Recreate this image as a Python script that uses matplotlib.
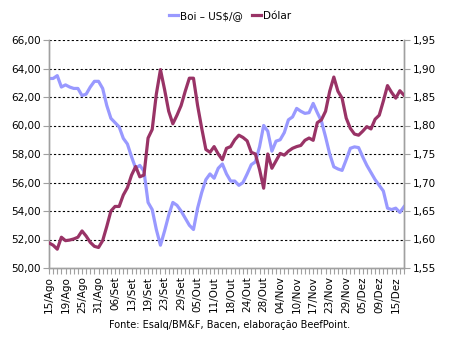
import matplotlib
matplotlib.use("Agg")
import matplotlib.pyplot as plt
import numpy as np

date_labels = ["15/Ago", "19/Ago", "25/Ago", "31/Ago", "06/Set", "13/Set", "19/Set",
               "23/Set", "29/Set", "05/Out", "11/Out", "18/Out", "24/Out", "28/Out",
               "04/Nov", "10/Nov", "17/Nov", "23/Nov", "29/Nov", "05/Dez", "09/Dez", "15/Dez"]
label_step = 4

boi = [63.3, 63.3, 63.5, 62.7, 62.85, 62.7, 62.6, 62.6, 62.1, 62.2,
       62.7, 63.1, 63.1, 62.6, 61.4, 60.5, 60.2, 59.9, 59.1, 58.7,
       57.8, 57.0, 57.2, 56.8, 54.6, 54.1, 52.7, 51.6, 52.6, 53.7,
       54.6, 54.4, 54.0, 53.5, 53.0, 52.7, 54.2, 55.3, 56.2, 56.6,
       56.3, 57.0, 57.3, 56.6, 56.1, 56.1, 55.8, 56.0, 56.6, 57.25,
       57.45, 58.5, 60.0, 59.6, 58.2, 58.9, 59.0, 59.5, 60.4, 60.6,
       61.2, 61.0, 60.85, 60.9, 61.55, 60.9, 60.3, 59.2, 58.0, 57.1,
       56.95, 56.85, 57.6, 58.4, 58.5, 58.45, 57.8, 57.2, 56.7, 56.2,
       55.8, 55.4, 54.2, 54.1, 54.2, 53.9, 54.3]

dolar = [1.594, 1.590, 1.583, 1.604, 1.598, 1.599, 1.601, 1.604, 1.615, 1.606,
         1.595, 1.588, 1.586, 1.598, 1.623, 1.650, 1.658, 1.658, 1.678, 1.691,
         1.713, 1.728, 1.710, 1.713, 1.778, 1.793, 1.855, 1.898, 1.863, 1.825,
         1.803, 1.818, 1.835, 1.860, 1.883, 1.883, 1.835, 1.795, 1.758, 1.753,
         1.763, 1.750, 1.740, 1.760, 1.763, 1.775, 1.783, 1.779, 1.773, 1.753,
         1.750, 1.723, 1.690, 1.750, 1.725, 1.738, 1.751, 1.748, 1.755, 1.760,
         1.763, 1.765, 1.774, 1.778, 1.774, 1.805, 1.810, 1.825, 1.860, 1.885,
         1.860, 1.848, 1.813, 1.795, 1.785, 1.783, 1.790, 1.798, 1.794, 1.811,
         1.818, 1.843, 1.870, 1.858, 1.848, 1.861, 1.853]

left_ticks = [50, 52, 54, 56, 58, 60, 62, 64, 66]
right_ticks = [1.55, 1.60, 1.65, 1.70, 1.75, 1.80, 1.85, 1.90, 1.95]

plt.rcParams['font.family'] = ['DejaVu Sans']
FS = 7.5
fig = plt.figure(figsize=(4.6, 3.42), dpi=100)
ax = fig.add_axes([49/460, 1-268/342, (404-49)/460, (268-40)/342])
ax2 = ax.twinx()

n = max(len(boi), len(dolar))
x = np.arange(n)
grey = "#A0A0A0"
c_boi = "#9999FF"
c_dol = "#993366"

for yv in left_ticks[1:]:
    ax.axhline(yv, color="black", lw=0.8, ls=(0, (2, 2)), zorder=1)

l1, = ax.plot(np.arange(len(boi)), boi, color=c_boi, lw=2.3, zorder=3, solid_joinstyle="round")
l2, = ax2.plot(np.arange(len(dolar)), dolar, color=c_dol, lw=2.3, zorder=3, solid_joinstyle="round")

ax.set_xlim(0, n - 1)
ax.set_ylim(50, 66)
ax2.set_ylim(1.55, 1.95)
ax.set_yticks(left_ticks)
ax.set_yticklabels([f"{v:.2f}".replace(".", ",") for v in left_ticks], fontsize=FS)
ax2.set_yticks(right_ticks)
ax2.set_yticklabels([f"{v:.2f}".replace(".", ",") for v in right_ticks], fontsize=FS)

ax.set_xticks(np.arange(0, n), minor=True)
ax.set_xticks(np.arange(0, len(date_labels) * label_step, label_step))
ax.set_xticklabels(date_labels, rotation=90, fontsize=FS)
ax.tick_params(axis="x", which="both", length=4, color=grey, width=0.8, pad=2)
ax.tick_params(axis="y", length=4, color=grey, width=0.8, pad=2)
ax2.tick_params(axis="y", length=4, color=grey, width=0.8, pad=2)

for a in (ax, ax2):
    a.spines["top"].set_visible(False)
    for s in ("left", "right", "bottom"):
        a.spines[s].set_color(grey)
        a.spines[s].set_linewidth(1.0)

fig.legend([l1, l2], ["Boi – US$/@", "Dólar"], loc="center", bbox_to_anchor=(0.5, 1 - 16/342),
           ncol=2, frameon=False, fontsize=FS, handlelength=0.9, handletextpad=0.2,
           columnspacing=0.8)

fig.text(0.5, 1 - 325/342, "Fonte: Esalq/BM&F, Bacen, elaboração BeefPoint.",
         ha="center", va="center", fontsize=7)

fig.savefig("out.png", dpi=100, facecolor="white")
